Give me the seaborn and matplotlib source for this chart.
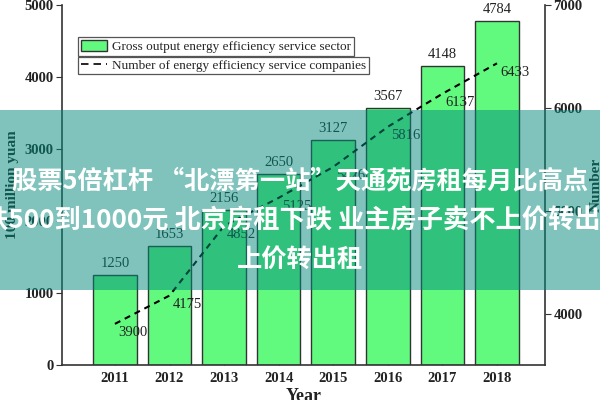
import numpy as np
import pandas as pd
import matplotlib
matplotlib.use("Agg")
import matplotlib.pyplot as plt
import seaborn as sns
from matplotlib.patches import Rectangle, Patch
from matplotlib.lines import Line2D

# ---------------- data ----------------
years = [2011, 2012, 2013, 2014, 2015, 2016, 2017, 2018]
year_labels = ["2011", "2012", "2013", "2014", "2015", "2016", "2017", "2018"]
gross_output = [1250, 1653, 2156, 2650, 3127, 3567, 4148, 4784]
companies = [3900, 4175, 4852, 5125, 5426, 5816, 6137, 6433]
left_ticks = [0, 1000, 2000, 3000, 4000, 5000]
right_ticks = [4000, 5000, 6000, 7000]
bar_legend = "Gross output energy efficiency service sector"
line_legend = "Number of energy efficiency service companies"
banner_line1 = "股票5倍杠杆 “北漂第一站”天通苑房租每月比高点"
banner_line2 = "跌500到1000元 北京房租下跌 业主房子卖不上价转出租"
banner_line3 = "上价转出租"

# ---------------- style ----------------
sns.set_style("ticks")
plt.rcParams["font.family"] = ["Liberation Serif", "DejaVu Sans"]
dark = "#333333"
bar_color = "#62FA7E"

fig = plt.figure(figsize=(6, 4), dpi=100)
ax = fig.add_axes([62 / 600, 35 / 400, 483 / 600, 360 / 400])

df = pd.DataFrame({"year": years, "gross": gross_output, "companies": companies})
sns.barplot(data=df, x="year", y="gross", native_scale=True, color=bar_color,
            saturation=1, edgecolor=dark, linewidth=1.0, width=0.8, ax=ax,
            errorbar=None)

ax.set_xlim(2010.03, 2018.88)
ax.set_ylim(0, 5000)
ax.set_xticks(years)
ax.set_xticklabels(year_labels)
ax.set_yticks(left_ticks)
ax.set_yticklabels([str(t) for t in left_ticks])
for lbl in ax.get_xticklabels() + ax.get_yticklabels():
    lbl.set_fontweight("bold")
    lbl.set_fontsize(10.5)
    lbl.set_color("#222222")
ax.tick_params(axis="x", direction="in", length=3, color=dark, pad=5)
ax.tick_params(axis="y", direction="out", length=4, color=dark, pad=2)
ax.set_xlabel("Year", fontsize=13, fontweight="bold", labelpad=2, color="#222222")
ax.set_ylabel("100 million yuan", fontsize=11, fontweight="bold", labelpad=4, color="#222222")
for s in ["top", "right"]:
    ax.spines[s].set_visible(False)
for s in ["left", "bottom"]:
    ax.spines[s].set_color(dark)
    ax.spines[s].set_linewidth(1.2)

for yr, v in zip(years, gross_output):
    ax.annotate(str(v), (yr, v), xytext=(0, 5), textcoords="offset pixels",
                ha="center", va="bottom", fontsize=10.5, color="#222222")

# secondary axis
ax2 = ax.twinx()
sns.lineplot(data=df, x="year", y="companies", ax=ax2, color="black",
             linewidth=1.5, linestyle=(0, (2.9, 2.4)))
ax2.set_ylim(3500, 7000)
ax2.set_xlim(2010.03, 2018.88)
ax2.set_yticks(right_ticks)
ax2.set_yticklabels([str(t) for t in right_ticks])
for lbl in ax2.get_yticklabels():
    lbl.set_fontweight("bold")
    lbl.set_fontsize(10.5)
    lbl.set_color("#222222")
ax2.tick_params(axis="y", direction="out", length=4, color=dark, pad=2)
ax2.set_ylabel("Number", fontsize=11, fontweight="bold", labelpad=5, color="#222222")
ax2.set_xlabel("")
for s in ["top", "left", "bottom"]:
    ax2.spines[s].set_visible(False)
ax2.spines["right"].set_color(dark)
ax2.spines["right"].set_linewidth(1.2)

for yr, v in zip(years, companies):
    ax2.annotate(str(v), (yr, v), xytext=(3, -9), textcoords="offset pixels",
                 ha="left", va="center", fontsize=10.5, color="#222222")

# legends (two separate framed boxes)
h_bar = Patch(facecolor=bar_color, edgecolor=dark, linewidth=1.0)
h_line = Line2D([0], [0], color="black", linewidth=1.2, linestyle=(0, (4.5, 3.0)))
leg1 = ax2.legend([h_bar], [bar_legend], loc="upper left",
                  bbox_to_anchor=(0.033, 0.911), borderaxespad=0, fontsize=9.5,
                  fancybox=False, framealpha=1, edgecolor="#555555",
                  borderpad=0.2, handlelength=2.0, handleheight=1.0,
                  handletextpad=0.4)
leg1.get_frame().set_linewidth(0.9)
ax2.add_artist(leg1)
leg2 = ax2.legend([h_line], [line_legend], loc="upper left",
                  bbox_to_anchor=(0.033, 0.856), borderaxespad=0, fontsize=9.5,
                  fancybox=False, framealpha=1, edgecolor="#555555",
                  borderpad=0.2, handlelength=2.0, handletextpad=0.4)
leg2.get_frame().set_linewidth(0.9)

# overlay banner
rect = Rectangle((0, 1 - 290 / 400), 1, 180 / 400, transform=fig.transFigure,
                 facecolor="#00897B", alpha=0.5, edgecolor="none", zorder=10)
fig.add_artist(rect)
cjk = ["Noto Sans CJK SC", "DejaVu Sans"]
fig.text(12 / 600, 1 - 181 / 400, banner_line1, ha="left", va="center",
         fontsize=18.2, fontweight="bold", color="white", family=cjk, zorder=11)
fig.text(-18 / 600, 1 - 221 / 400, banner_line2, ha="left", va="center",
         fontsize=18.9, fontweight="bold", color="white", family=cjk, zorder=11)
fig.text(300 / 600, 1 - 260 / 400, banner_line3, ha="center", va="center",
         fontsize=18.2, fontweight="bold", color="white", family=cjk, zorder=11)

fig.savefig("out.png", dpi=100)
